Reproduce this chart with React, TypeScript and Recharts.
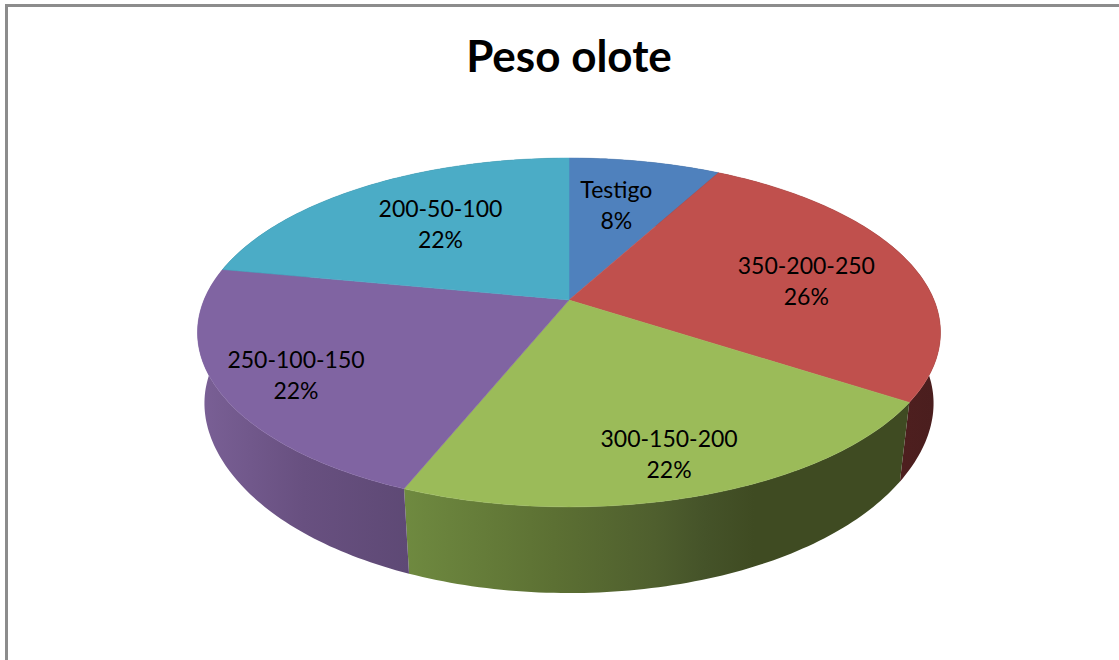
import React from "react";
import { PieChart, Pie, Cell } from "recharts";

const title = "Peso olote";
const categories = ["Testigo", "350-200-250", "300-150-200", "250-100-150", "200-50-100"];
const shares = [7.9, 26.3, 21.9, 21.9, 22];
const topColors = ["#4f81bd", "#c0504d", "#9bbb59", "#8064a2", "#4bacc6"];

const chartData = categories.map((name, i) => ({ name, value: shares[i] }));

// perspective of the pie: k tilts the disc, the top and bottom rims have their own scale
const k = 0.186;
const top = { a: 365, b: 168.4, y0: 300, bulge: 0 };
const bottom = { a: 354, b: 179.6, y0: 372.4, bulge: 5 };
const labelReach = [0.68, 0.68, 0.8, 0.8, 0.6];
const labelShiftX = [-7, 4, -2, 3, 0];
const labelShiftY = [0, 4, 0, 2, -8];
const wallFills = ["#2f4a6b", "url(#wallRed)", "url(#wallGreen)", "url(#wallPurple)", "#2a6170"];

const CX = 569;

const project = (rim: typeof top, angle: number, f = 1) => {
  const rad = (angle * Math.PI) / 180;
  const u = f * Math.cos(rad);
  const v = f * Math.sin(rad);
  const d = 1 + k * v;
  // the lower rim is a bit boxier at its far left and right ends
  const side = Math.sign(u) * rim.bulge * Math.pow(Math.abs(u), 10);
  return { x: CX + (rim.a * u) / d + side, y: rim.y0 - (rim.b * v) / d };
};

const rimPoints = (rim: typeof top, from: number, to: number) => {
  const steps = Math.max(2, Math.ceil(Math.abs(to - from)));
  const pts = [];
  for (let i = 0; i <= steps; i++) {
    pts.push(project(rim, from + ((to - from) * i) / steps));
  }
  return pts;
};

const toPath = (pts: { x: number; y: number }[]) =>
  pts.map((p, i) => `${i === 0 ? "M" : "L"}${p.x.toFixed(2)},${p.y.toFixed(2)}`).join(" ") + " Z";

const TopSlice = (props: any) => {
  const pts = [{ x: CX, y: top.y0 }, ...rimPoints(top, props.startAngle, props.endAngle)];
  return <path d={toPath(pts)} fill={props.fill} stroke={props.fill} strokeWidth={0.5} />;
};

const WallSlice = (props: any) => {
  const upper = rimPoints(top, props.startAngle, props.endAngle);
  const lower = rimPoints(bottom, props.startAngle, props.endAngle).reverse();
  return <path d={toPath([...upper, ...lower])} fill={props.fill} stroke="none" />;
};

const SliceLabel = (props: any) => {
  const p = project(top, props.midAngle, labelReach[props.index]);
  const x = p.x + labelShiftX[props.index];
  const y = p.y + labelShiftY[props.index];
  return (
    <text textAnchor="middle" fontFamily="Lato" fontSize={23} fill="#000">
      <tspan x={x} y={y - 3}>{props.name}</tspan>
      <tspan x={x} y={y + 28}>{`${Math.round(props.percent * 100)}%`}</tspan>
    </text>
  );
};

export default function App() {
  return (
    <div style={{ position: "absolute", left: 0, top: 0, width: 1119, height: 660, background: "#fff", overflow: "hidden" }}>
      <div style={{ position: "absolute", left: 5, top: 4, right: 0, height: 3, background: "#8c8c8c" }} />
      <div style={{ position: "absolute", left: 5, top: 4, bottom: 0, width: 3, background: "#8c8c8c" }} />
      <PieChart width={1119} height={660} margin={{ top: 0, right: 0, bottom: 0, left: 0 }}>
        <defs>
          <linearGradient id="wallRed" gradientUnits="userSpaceOnUse" x1={900} x2={940} y1={0} y2={0}>
            <stop offset="0" stopColor="#4e1f1f" />
            <stop offset="1" stopColor="#4a1e1e" />
          </linearGradient>
          <linearGradient id="wallGreen" gradientUnits="userSpaceOnUse" x1={403} x2={905} y1={0} y2={0}>
            <stop offset="0" stopColor="#6f8a40" />
            <stop offset="0.3" stopColor="#5c7033" />
            <stop offset="0.5" stopColor="#4f5f2e" />
            <stop offset="0.6" stopColor="#455329" />
            <stop offset="0.7" stopColor="#3f4b22" />
            <stop offset="1" stopColor="#3f4b22" />
          </linearGradient>
          <linearGradient id="wallPurple" gradientUnits="userSpaceOnUse" x1={198} x2={408} y1={0} y2={0}>
            <stop offset="0" stopColor="#7a6096" />
            <stop offset="0.5" stopColor="#685080" />
            <stop offset="1" stopColor="#5e4975" />
          </linearGradient>
        </defs>
        <text x={569} y={72} textAnchor="middle" fontFamily="Lato" fontWeight={700} fontSize={44} fill="#000">
          {title}
        </text>
        <Pie
          data={chartData}
          dataKey="value"
          nameKey="name"
          cx={CX}
          cy={300}
          outerRadius={top.a}
          startAngle={90}
          endAngle={-270}
          shape={WallSlice}
          stroke="none"
          isAnimationActive={false}
        >
          {wallFills.map((c, i) => (
            <Cell key={i} fill={c} />
          ))}
        </Pie>
        <Pie
          data={chartData}
          dataKey="value"
          nameKey="name"
          cx={CX}
          cy={300}
          outerRadius={top.a}
          startAngle={90}
          endAngle={-270}
          shape={TopSlice}
          label={SliceLabel}
          labelLine={false}
          stroke="none"
          isAnimationActive={false}
        >
          {topColors.map((c, i) => (
            <Cell key={i} fill={c} />
          ))}
        </Pie>
      </PieChart>
    </div>
  );
}
